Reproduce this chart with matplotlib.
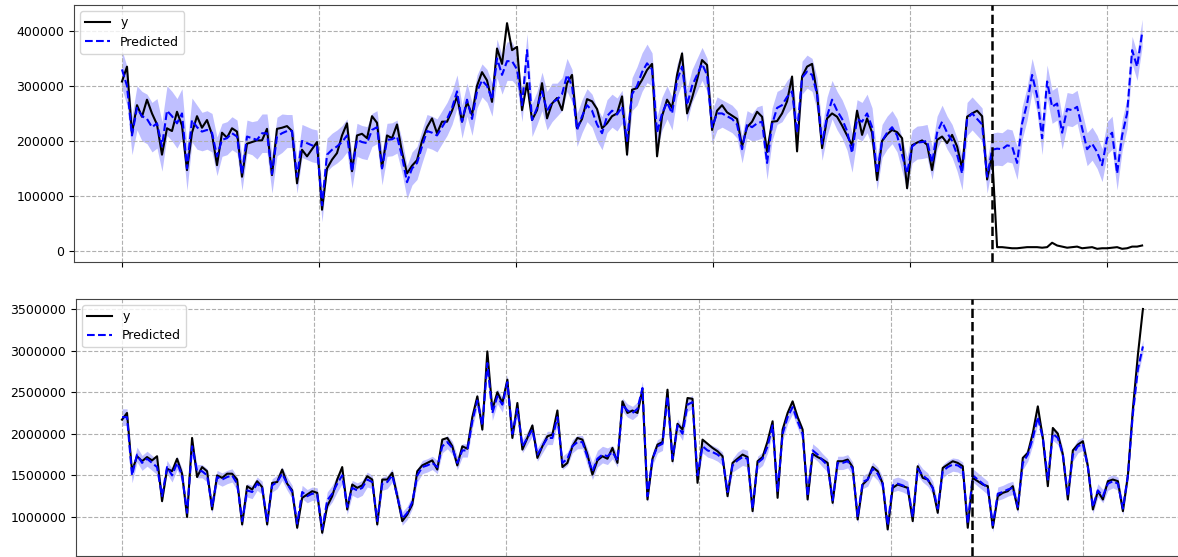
import numpy as np
import matplotlib
matplotlib.use('Agg')
import matplotlib.pyplot as plt

# pannello superiore (valori in migliaia)
top_y = [308, 335, 214, 265, 244, 275, 250, 230, 175, 223,
         218, 253, 228, 147, 215, 245, 224, 238, 212, 156,
         215, 206, 223, 217, 135, 195, 198, 201, 201, 222,
         138, 222, 224, 227, 218, 123, 184, 172, 185, 198,
         75, 150, 166, 178, 210, 232, 145, 210, 213, 205,
         245, 233, 151, 210, 205, 230, 180, 141, 155, 165,
         200, 225, 241, 214, 235, 235, 255, 281, 235, 271,
         247, 300, 325, 310, 271, 368, 340, 414, 365, 371,
         256, 305, 238, 256, 305, 241, 268, 278, 256, 305,
         320, 223, 240, 276, 272, 258, 223, 232, 245, 250,
         281, 175, 293, 296, 311, 329, 340, 172, 245, 275,
         260, 320, 359, 250, 278, 311, 347, 338, 220, 255,
         265, 252, 246, 240, 190, 225, 235, 253, 244, 180,
         235, 236, 250, 272, 317, 181, 317, 335, 340, 286,
         187, 241, 250, 244, 228, 210, 192, 255, 211, 241,
         215, 129, 200, 212, 220, 216, 205, 114, 192, 197,
         201, 193, 147, 202, 208, 196, 211, 190, 150, 244,
         250, 255, 245, 130, 175, 7, 7, 6, 5, 5,
         6, 7, 7, 7, 6, 7, 15, 10, 8, 6,
         7, 8, 5, 6, 7, 4, 5, 5, 6, 7,
         4, 5, 8, 8, 10]

top_pred = [330, 300, 210, 260, 245, 240, 225, 232, 190, 255,
            245, 232, 250, 150, 238, 225, 217, 220, 215, 172,
            202, 205, 214, 208, 140, 208, 205, 202, 214, 214,
            140, 208, 214, 218, 218, 135, 200, 196, 192, 190,
            83, 175, 184, 190, 198, 210, 144, 202, 198, 196,
            220, 225, 150, 202, 203, 208, 172, 125, 150, 160,
            190, 218, 215, 210, 225, 240, 260, 290, 235, 275,
            240, 290, 310, 300, 275, 350, 320, 345, 345, 330,
            265, 365, 238, 260, 290, 255, 270, 275, 285, 320,
            300, 220, 245, 265, 255, 230, 214, 245, 255, 248,
            262, 200, 285, 300, 325, 341, 330, 215, 250, 270,
            250, 310, 335, 265, 300, 320, 340, 320, 225, 250,
            250, 245, 240, 230, 185, 230, 225, 232, 235, 160,
            230, 260, 265, 280, 290, 215, 315, 326, 320, 285,
            195, 245, 275, 255, 240, 218, 178, 240, 235, 250,
            225, 141, 200, 215, 225, 210, 175, 141, 190, 197,
            198, 200, 160, 215, 235, 215, 200, 175, 141, 240,
            250, 240, 230, 135, 184, 186, 185, 192, 190, 160,
            232, 268, 320, 282, 205, 308, 262, 268, 215, 258,
            256, 262, 223, 185, 195, 180, 156, 205, 215, 141,
            210, 250, 365, 335, 396]

top_band = [35, 35, 35, 40, 45, 45, 45, 45, 45, 45,
            45, 45, 45, 40, 40, 40, 35, 35, 35, 35,
            30, 30, 30, 30, 30, 30, 30, 35, 35, 35,
            35, 35, 35, 30, 30, 30, 30, 30, 30, 30,
            30, 30, 30, 30, 30, 30, 30, 30, 30, 30,
            30, 30, 30, 30, 30, 30, 30, 30, 30, 30,
            30, 30, 30, 30, 30, 30, 30, 30, 30, 30,
            30, 30, 30, 30, 30, 35, 35, 35, 35, 30,
            30, 30, 30, 30, 35, 35, 35, 30, 30, 30,
            30, 30, 30, 30, 30, 30, 30, 30, 30, 30,
            30, 30, 30, 35, 35, 35, 30, 30, 30, 30,
            30, 30, 30, 30, 30, 30, 30, 30, 30, 30,
            25, 25, 25, 25, 25, 25, 25, 30, 30, 30,
            30, 30, 30, 30, 30, 30, 30, 30, 30, 30,
            30, 35, 35, 35, 35, 35, 35, 35, 35, 35,
            35, 30, 30, 30, 30, 30, 30, 30, 30, 30,
            30, 30, 30, 30, 30, 30, 30, 30, 30, 30,
            30, 30, 30, 30, 30, 30, 30, 30, 30, 30,
            30, 30, 30, 30, 30, 30, 30, 30, 30, 30,
            30, 30, 30, 30, 30, 30, 30, 30, 30, 30,
            28, 28, 25, 25, 25]

# pannello inferiore (valori in milioni)
bot_y = [2.17, 2.25, 1.55, 1.73, 1.67, 1.72, 1.68, 1.73, 1.19, 1.58,
         1.55, 1.70, 1.52, 1.00, 1.95, 1.48, 1.60, 1.55, 1.09, 1.50,
         1.47, 1.52, 1.52, 1.45, 0.91, 1.37, 1.33, 1.43, 1.36, 0.91,
         1.41, 1.42, 1.57, 1.40, 1.32, 0.87, 1.23, 1.27, 1.31, 1.29,
         0.81, 1.13, 1.25, 1.45, 1.60, 1.09, 1.39, 1.35, 1.38, 1.49,
         1.45, 0.91, 1.45, 1.45, 1.53, 1.25, 0.95, 1.03, 1.15, 1.55,
         1.62, 1.65, 1.68, 1.57, 1.93, 1.95, 1.85, 1.62, 1.85, 1.82,
         2.20, 2.45, 2.05, 2.99, 2.29, 2.50, 2.37, 2.65, 1.95, 2.37,
         1.81, 1.95, 2.10, 1.71, 1.85, 1.97, 1.99, 2.28, 1.60, 1.65,
         1.85, 1.95, 1.93, 1.75, 1.51, 1.68, 1.73, 1.70, 1.83, 1.65,
         2.39, 2.25, 2.28, 2.25, 2.53, 1.21, 1.70, 1.87, 1.90, 2.53,
         1.67, 2.12, 2.05, 2.43, 2.42, 1.41, 1.93, 1.88, 1.83, 1.79,
         1.73, 1.25, 1.65, 1.70, 1.75, 1.72, 1.07, 1.67, 1.72, 1.91,
         2.15, 1.23, 2.05, 2.25, 2.39, 2.20, 2.05, 1.21, 1.76, 1.72,
         1.69, 1.65, 1.17, 1.67, 1.67, 1.69, 1.60, 0.97, 1.39, 1.45,
         1.60, 1.55, 1.40, 0.85, 1.35, 1.39, 1.37, 1.35, 0.95, 1.61,
         1.47, 1.45, 1.35, 1.05, 1.59, 1.63, 1.67, 1.65, 1.61, 0.87,
         1.47, 1.43, 1.39, 1.37, 0.87, 1.25, 1.29, 1.31, 1.37, 1.09,
         1.71, 1.77, 2.01, 2.33, 1.95, 1.37, 2.07, 2.00, 1.75, 1.21,
         1.80, 1.87, 1.91, 1.61, 1.09, 1.31, 1.21, 1.43, 1.45, 1.43,
         1.07, 1.50, 2.30, 2.95, 3.50]

bot_pred = [2.20, 2.20, 1.50, 1.75, 1.65, 1.70, 1.65, 1.60, 1.25, 1.60,
            1.50, 1.65, 1.50, 1.05, 1.85, 1.55, 1.55, 1.50, 1.12, 1.48,
            1.45, 1.48, 1.50, 1.40, 0.95, 1.32, 1.30, 1.40, 1.35, 0.95,
            1.38, 1.42, 1.52, 1.40, 1.30, 0.92, 1.30, 1.25, 1.28, 1.27,
            0.85, 1.20, 1.28, 1.40, 1.50, 1.12, 1.35, 1.32, 1.35, 1.45,
            1.42, 0.95, 1.40, 1.42, 1.50, 1.25, 0.98, 1.05, 1.18, 1.50,
            1.60, 1.62, 1.65, 1.60, 1.85, 1.90, 1.83, 1.65, 1.80, 1.80,
            2.15, 2.40, 2.10, 2.85, 2.25, 2.45, 2.35, 2.62, 2.00, 2.30,
            1.85, 1.95, 2.05, 1.75, 1.85, 1.95, 1.95, 2.20, 1.65, 1.70,
            1.85, 1.90, 1.90, 1.72, 1.55, 1.70, 1.75, 1.73, 1.78, 1.68,
            2.35, 2.28, 2.25, 2.30, 2.55, 1.25, 1.70, 1.85, 1.88, 2.45,
            1.70, 2.10, 2.00, 2.35, 2.38, 1.50, 1.85, 1.80, 1.78, 1.75,
            1.70, 1.30, 1.62, 1.68, 1.72, 1.70, 1.10, 1.65, 1.70, 1.85,
            2.10, 1.30, 2.00, 2.20, 2.32, 2.15, 2.00, 1.25, 1.80, 1.75,
            1.68, 1.62, 1.20, 1.65, 1.65, 1.67, 1.58, 1.00, 1.42, 1.45,
            1.58, 1.52, 1.40, 0.90, 1.38, 1.40, 1.38, 1.35, 1.00, 1.58,
            1.50, 1.45, 1.35, 1.10, 1.55, 1.60, 1.63, 1.62, 1.58, 0.92,
            1.50, 1.45, 1.40, 1.35, 0.90, 1.28, 1.30, 1.33, 1.35, 1.12,
            1.65, 1.75, 1.95, 2.20, 1.95, 1.45, 2.00, 1.95, 1.75, 1.25,
            1.75, 1.85, 1.88, 1.60, 1.12, 1.32, 1.25, 1.40, 1.43, 1.40,
            1.10, 1.50, 2.25, 2.78, 3.05]

bot_band = [0.10, 0.10, 0.09, 0.09, 0.09, 0.09, 0.09, 0.09, 0.08, 0.08,
            0.08, 0.08, 0.08, 0.08, 0.08, 0.08, 0.08, 0.08, 0.08, 0.08,
            0.08, 0.08, 0.08, 0.08, 0.08, 0.08, 0.08, 0.08, 0.08, 0.08,
            0.08, 0.08, 0.08, 0.08, 0.08, 0.08, 0.08, 0.08, 0.08, 0.08,
            0.08, 0.10, 0.10, 0.10, 0.10, 0.09, 0.09, 0.09, 0.09, 0.09,
            0.08, 0.08, 0.08, 0.08, 0.08, 0.08, 0.08, 0.08, 0.08, 0.08,
            0.08, 0.08, 0.08, 0.08, 0.08, 0.08, 0.08, 0.08, 0.08, 0.08,
            0.08, 0.08, 0.08, 0.09, 0.09, 0.09, 0.09, 0.09, 0.08, 0.08,
            0.08, 0.08, 0.08, 0.08, 0.08, 0.08, 0.08, 0.08, 0.08, 0.08,
            0.08, 0.08, 0.08, 0.10, 0.10, 0.10, 0.10, 0.10, 0.08, 0.08,
            0.08, 0.08, 0.08, 0.08, 0.08, 0.08, 0.08, 0.08, 0.08, 0.08,
            0.08, 0.08, 0.08, 0.08, 0.08, 0.08, 0.08, 0.08, 0.08, 0.08,
            0.08, 0.08, 0.08, 0.10, 0.10, 0.10, 0.08, 0.08, 0.08, 0.08,
            0.08, 0.08, 0.08, 0.08, 0.08, 0.08, 0.08, 0.08, 0.08, 0.08,
            0.08, 0.08, 0.08, 0.08, 0.08, 0.08, 0.08, 0.08, 0.08, 0.08,
            0.08, 0.08, 0.08, 0.08, 0.08, 0.08, 0.08, 0.08, 0.08, 0.08,
            0.08, 0.08, 0.08, 0.08, 0.08, 0.08, 0.08, 0.08, 0.08, 0.08,
            0.08, 0.08, 0.08, 0.08, 0.08, 0.08, 0.08, 0.08, 0.08, 0.08,
            0.08, 0.08, 0.08, 0.08, 0.08, 0.08, 0.08, 0.08, 0.08, 0.08,
            0.08, 0.08, 0.08, 0.08, 0.08, 0.08, 0.08, 0.08, 0.08, 0.08,
            0.08, 0.08, 0.08, 0.08, 0.08]

top_split = 174      # linea verticale (indice)
bot_split = 169.8
top_ticks = [0, 39.4, 78.8, 118.2, 157.6, 197]
bot_ticks = [0, 38.4, 76.8, 115.2, 153.6, 192]

plt.rcParams['font.size'] = 9
fig = plt.figure(figsize=(11.78, 5.57), dpi=100)
ax1 = fig.add_axes([0.0628, 0.5296, 0.939, 0.4614])
ax2 = fig.add_axes([0.0645, 0.0018, 0.938, 0.4614])

def draw(ax, yv, pv, band, scale, split, ticks, ylim, yticks):
    x = np.arange(len(yv))
    yv = np.array(yv) * scale
    pv = np.array(pv) * scale
    band = np.array(band) * scale
    ax.fill_between(x, pv - band, pv + band, color='blue', alpha=0.25, lw=0)
    ax.plot(x, yv, color='k', lw=1.5, label='y', zorder=3)
    ax.plot(x, pv, color='blue', ls='--', lw=1.5, label='Predicted', zorder=4)
    ax.axvline(split, color='k', ls='--', lw=1.8, zorder=5)
    ax.set_xlim(-9.6, 211.6)
    ax.set_ylim(*ylim)
    ax.set_xticks(ticks)
    ax.set_xticklabels([])
    ax.set_yticks(yticks)
    ax.grid(True, ls='--', color='#b0b0b0', lw=0.8)
    for s in ax.spines.values():
        s.set_color('#444444')
    ax.legend(loc='upper left')

draw(ax1, top_y, top_pred, top_band, 1000, top_split, top_ticks,
     (-20000, 447000), [0, 100000, 200000, 300000, 400000])
draw(ax2, bot_y, bot_pred, bot_band, 1e6, bot_split, bot_ticks,
     (531000, 3620000), [1000000, 1500000, 2000000, 2500000, 3000000, 3500000])
ax2.set_xlim(-9.2, 211.6)
ax2.ticklabel_format(axis='y', style='plain')
ax1.ticklabel_format(axis='y', style='plain')

fig.savefig('out.png', dpi=100)
